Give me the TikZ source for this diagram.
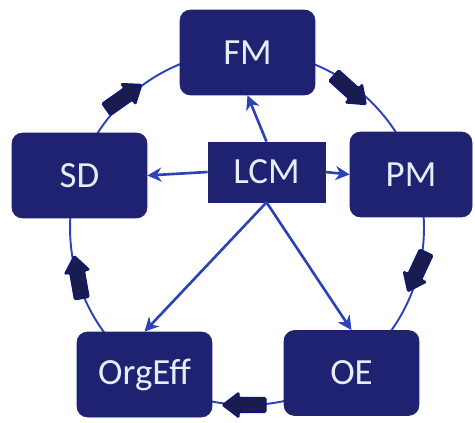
\documentclass[tikz,border=0pt]{standalone}
\usepackage{fontspec}
\setmainfont{Carlito}
\usepackage{xcolor}
\usetikzlibrary{arrows.meta}

\definecolor{navy}{RGB}{30,34,112}
\definecolor{ringblue}{RGB}{45,65,185}
\definecolor{flownavy}{RGB}{24,28,78}
\definecolor{boxtext}{RGB}{230,236,250}

\tikzset{
  unit/.style={draw=navy, fill=navy, rounded corners=6pt, text=boxtext,
    minimum width=2.7cm, minimum height=1.7cm, font=\fontsize{21}{24}\selectfont},
  hub/.style={unit, rounded corners=0pt, minimum width=2.34cm, minimum height=1.2cm},
  link/.style={ringblue, line width=1.5pt, -{Stealth[length=8pt,width=8pt,inset=2.5pt]}},
  flow/.pic={
    \draw[draw=flownavy!70!blue, fill=flownavy, line width=0.6pt, rounded corners=0.8pt]
      (-0.44cm,-0.15cm) -- (0.1cm,-0.15cm) -- (0.1cm,-0.26cm) -- (0.44cm,0cm)
      -- (0.1cm,0.26cm) -- (0.1cm,0.15cm) -- (-0.44cm,0.15cm) -- cycle;
  }
}

\begin{document}
\begin{tikzpicture}[x=0.02cm, y=-0.02cm]
 \useasboundingbox (0,0) rectangle (475,422);

 %ring
 \coordinate (ring) at (247,228);
 \draw[ringblue, line width=1.1pt] (ring) circle [radius=3.54cm];

 %boxes
 \node[unit] (FM) at (247.5,52.5) {FM};
 \node[unit] (SD) at (79.5,175.5) {SD};
 \node[unit, minimum width=2.44cm] (PM) at (411,174.5) {PM};
 \node[unit] (OrgEff) at (144.5,374.5) {OrgEff};
 \node[unit] (OE) at (351.5,373) {OE};
 \node[hub] (LCM) at (266.5,172) {LCM};

 %cycle arrows
 \foreach \x/\y/\a/\n in {124/97/35/1, 350/90/-42/2, 417/272/-115/3, 244/405/180/4, 78/277/100/5} {
   \pic[rotate=\a] (F\n) at (\x,\y) {flow};
 }

 %links
 \draw[link] (LCM.north) -- (FM.south);
 \draw[link] (LCM.west) -- (SD.east);
 \draw[link] (LCM.east) -- (PM.west);
 \draw[link] (LCM.south) -- (OrgEff.north);
 \draw[link] (LCM.south) -- (OE.north);

\end{tikzpicture}
\end{document}
